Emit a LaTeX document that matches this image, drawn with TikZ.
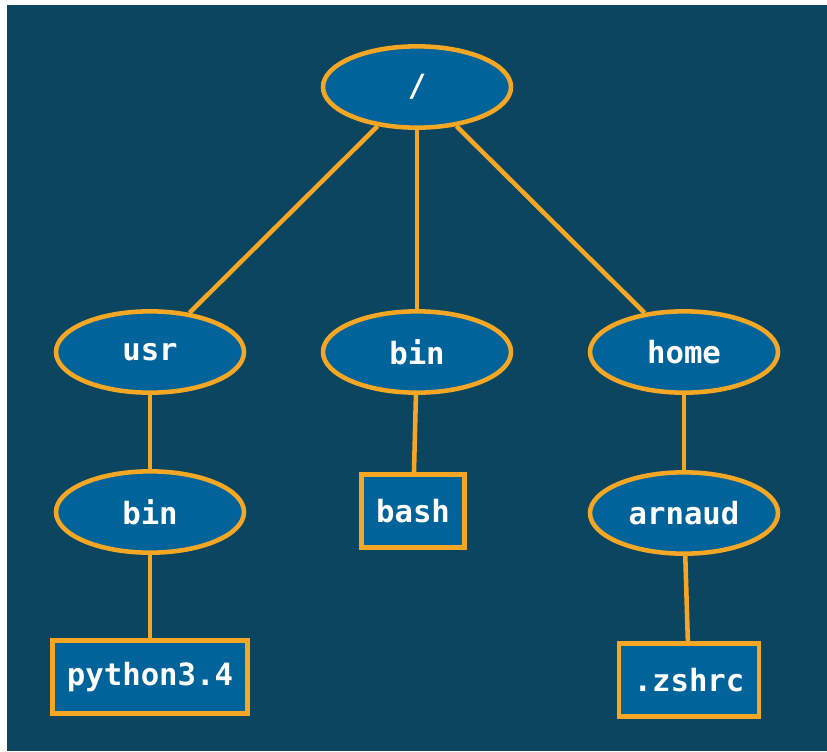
\documentclass[tikz,border=0pt]{standalone}
\usepackage{fontspec}
\usetikzlibrary{shapes.geometric}
\newfontfamily\treefont{DejaVu Sans Mono}
\definecolor{backcolor}{RGB}{11,69,96}
\definecolor{nodecolor}{RGB}{0,100,154}
\definecolor{edgecolor}{RGB}{245,167,35}
\newcommand{\edgewidth}{3.4pt}
\newcommand{\treetext}{\treefont\bfseries\fontsize{23}{27}\selectfont}

\begin{document}
\begin{tikzpicture}[x=0.75pt, y=-0.75pt,
		dir/.style={ellipse, draw=edgecolor, fill=nodecolor, line width=\edgewidth,
			minimum width=141pt, minimum height=61pt, inner sep=0pt,
			text=white, font=\treetext},
		file/.style={rectangle, draw=edgecolor, fill=nodecolor, line width=\edgewidth,
			minimum height=55pt, inner xsep=11pt, inner ysep=0pt,
			text=white, font=\treetext},
		link/.style={draw=edgecolor, line width=\edgewidth}]

			\useasboundingbox (0, 0) rectangle (827, 751);
			\fill[backcolor] (7, 5) rectangle (827, 751);

			\node[dir] (root) at (417, 87) {/};

			\node[dir] (usr) at (150, 352) {usr};
			\node[dir] (bin) at (417, 352) {bin};
			\node[dir] (home) at (684, 352) {home};

			\node[dir] (usrbin) at (150, 512) {bin};
			\node[file] (bash) at (413, 511) {bash};
			\node[dir] (arnaud) at (684, 513) {arnaud};

			\node[file] (python) at (150, 677) {python3.4};
			\node[file] (zshrc) at (689, 680) {.zshrc};

			\draw[link] (root) -- (usr);
			\draw[link] (root) -- (bin);
			\draw[link] (root) -- (home);
			\draw[link] (usr) -- (usrbin);
			\draw[link] (usrbin) -- (python);
			\draw[link] (bin) -- (bash);
			\draw[link] (home) -- (arnaud);
			\draw[link] (arnaud) -- (zshrc);

		\end{tikzpicture}
\end{document}
